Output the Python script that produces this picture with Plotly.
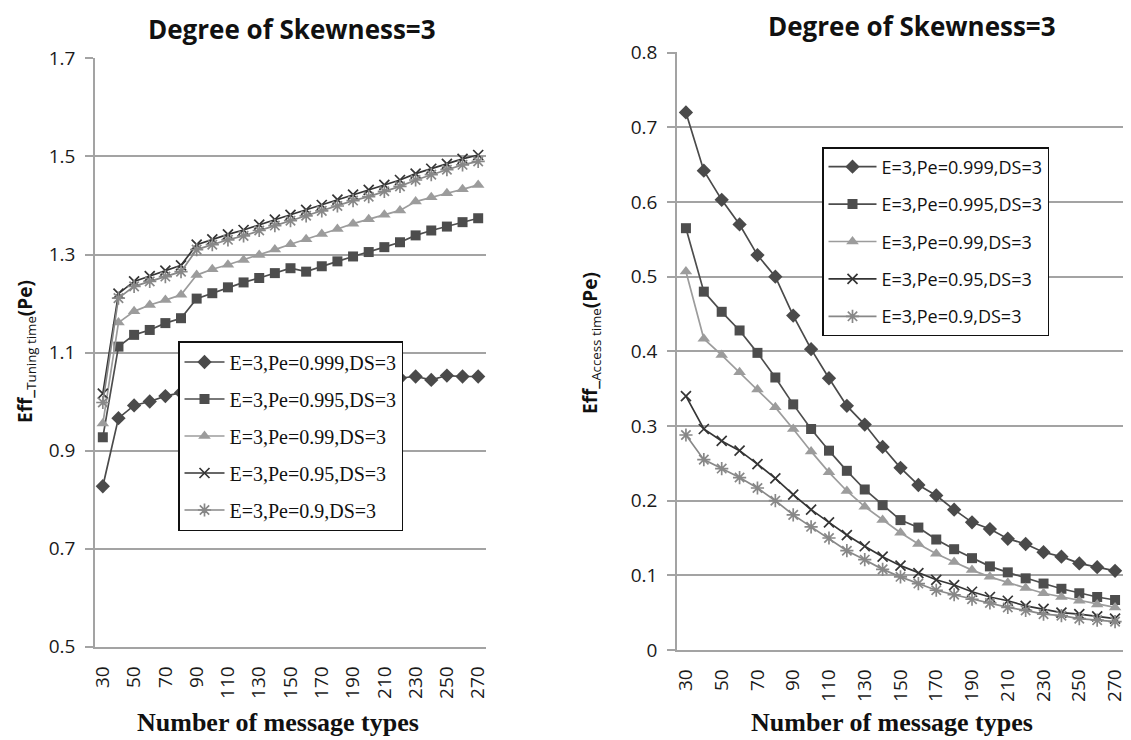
import plotly.graph_objects as go

# The page body has an 8px margin; lay the figure out in screenshot pixels
OX, OY = 8, 8
W, H = 1131 - OX, 740 - OY


def px(p):
    return (p - OX) / W


def py(p):
    return 1 - (p - OY) / H


# ---------------- data ----------------
msg_types = [30, 40, 50, 60, 70, 80, 90, 100, 110, 120, 130, 140, 150,
             160, 170, 180, 190, 200, 210, 220, 230, 240, 250, 260, 270]
x_tick_vals = [30, 50, 70, 90, 110, 130, 150, 170, 190, 210, 230, 250, 270]

series_names = ["E=3,Pe=0.999,DS=3", "E=3,Pe=0.995,DS=3", "E=3,Pe=0.99,DS=3",
                "E=3,Pe=0.95,DS=3", "E=3,Pe=0.9,DS=3"]

# Left chart: Eff_Tuning time(Pe)
tuning_999 = [0.827, 0.966, 0.992, 1.000, 1.011, 1.018, 1.028, 1.031, 1.033, 1.035,
              1.037, 1.038, 1.040, 1.039, 1.041, 1.042, 1.044, 1.045, 1.046, 1.048,
              1.051, 1.044, 1.053, 1.051, 1.051]
tuning_995 = [0.927, 1.112, 1.136, 1.146, 1.160, 1.170, 1.210, 1.221, 1.233, 1.243,
              1.252, 1.262, 1.272, 1.265, 1.276, 1.286, 1.296, 1.305, 1.315, 1.325,
              1.339, 1.349, 1.357, 1.366, 1.374]
tuning_99 = [0.955, 1.161, 1.184, 1.197, 1.207, 1.218, 1.258, 1.270, 1.279, 1.289,
             1.299, 1.310, 1.321, 1.331, 1.342, 1.352, 1.363, 1.372, 1.381, 1.390,
             1.408, 1.417, 1.425, 1.433, 1.442]
tuning_95 = [1.016, 1.220, 1.245, 1.256, 1.267, 1.278, 1.320, 1.331, 1.341, 1.350,
             1.361, 1.371, 1.381, 1.391, 1.401, 1.412, 1.422, 1.432, 1.442, 1.452,
             1.465, 1.475, 1.485, 1.495, 1.503]
tuning_9 = [0.998, 1.211, 1.235, 1.245, 1.255, 1.265, 1.310, 1.320, 1.330, 1.338,
            1.349, 1.359, 1.369, 1.379, 1.389, 1.399, 1.410, 1.418, 1.429, 1.439,
            1.452, 1.463, 1.473, 1.483, 1.490]
tuning_ticks = [0.5, 0.7, 0.9, 1.1, 1.3, 1.5, 1.7]

# Right chart: Eff_Access time(Pe)
access_999 = [0.720, 0.642, 0.603, 0.570, 0.529, 0.500, 0.448, 0.403, 0.364, 0.327,
              0.302, 0.272, 0.244, 0.221, 0.207, 0.188, 0.171, 0.162, 0.149, 0.142,
              0.131, 0.125, 0.116, 0.111, 0.106]
access_995 = [0.565, 0.480, 0.453, 0.428, 0.398, 0.365, 0.329, 0.296, 0.267, 0.240,
              0.215, 0.194, 0.174, 0.164, 0.148, 0.135, 0.123, 0.112, 0.104, 0.096,
              0.089, 0.082, 0.076, 0.071, 0.067]
access_99 = [0.507, 0.417, 0.395, 0.372, 0.349, 0.325, 0.296, 0.266, 0.238, 0.213,
             0.192, 0.174, 0.157, 0.142, 0.129, 0.118, 0.107, 0.098, 0.090, 0.083,
             0.076, 0.071, 0.066, 0.061, 0.057]
access_95 = [0.340, 0.296, 0.280, 0.267, 0.249, 0.230, 0.208, 0.188, 0.171, 0.154,
             0.139, 0.125, 0.113, 0.103, 0.094, 0.087, 0.078, 0.071, 0.066, 0.059,
             0.055, 0.050, 0.048, 0.045, 0.042]
access_9 = [0.288, 0.255, 0.243, 0.231, 0.217, 0.200, 0.181, 0.165, 0.150, 0.133,
            0.121, 0.108, 0.098, 0.089, 0.080, 0.074, 0.068, 0.063, 0.057, 0.053,
            0.048, 0.046, 0.042, 0.040, 0.038]
access_ticks = [0, 0.1, 0.2, 0.3, 0.4, 0.5, 0.6, 0.7, 0.8]

# ---------------- styles ----------------
styles = [
    dict(symbol="diamond", color="#4a4a4a", size=11),
    dict(symbol="square", color="#4d4d4d", size=10),
    dict(symbol="triangle-up", color="#9c9c9c", size=11),
    dict(symbol="x-thin-open", color="#353535", size=10),
    dict(symbol="asterisk-open", color="#888888", size=11),
]

fig = go.Figure()


def add_series(ys, idx, xa, ya, legend):
    st = styles[idx]
    open_sym = st["symbol"].endswith("open")
    fig.add_trace(go.Scatter(
        x=msg_types, y=ys, mode="lines+markers", name=series_names[idx],
        xaxis=xa, yaxis=ya, legend=legend, legendgroup=legend + str(idx),
        line=dict(color=st["color"], width=1.7),
        marker=dict(symbol=st["symbol"], size=st["size"], color=st["color"],
                    line=dict(color=st["color"], width=1.7 if open_sym else 0)),
    ))


for i, ys in enumerate([tuning_999, tuning_995, tuning_99, tuning_95, tuning_9]):
    add_series(ys, i, "x", "y", "legend")
for i, ys in enumerate([access_999, access_995, access_99, access_95, access_9]):
    add_series(ys, i, "x2", "y2", "legend2")

GRID = "#a3a3a3"
tickfont = dict(family="Open Sans", size=19, color="#1a1a1a")

common_x = dict(range=[25, 275], tickvals=x_tick_vals, tickangle=-90,
                showgrid=False, zeroline=False, showline=True, linecolor=GRID,
                linewidth=1.6, ticks="", tickfont=tickfont, ticklabelstandoff=10,
                ticklabeloverflow="allow", automargin=False)
common_y = dict(showgrid=True, gridcolor=GRID, gridwidth=1.6, zeroline=False,
                showline=True, linecolor=GRID, linewidth=1.6, ticks="outside",
                ticklen=8, tickcolor=GRID, tickwidth=1.6, tickfont=tickfont,
                ticklabelstandoff=6, automargin=False)

fig.update_layout(
    width=W, height=H, autosize=False,
    margin=dict(l=0, r=0, t=0, b=0, pad=0, autoexpand=False),
    paper_bgcolor="white", plot_bgcolor="white",
    xaxis=dict(domain=[px(95), px(486)], anchor="y", **common_x),
    yaxis=dict(domain=[py(647), py(58)], anchor="x", range=[0.499, 1.701],
               tickvals=tuning_ticks, **common_y),
    xaxis2=dict(domain=[px(677), px(1124)], anchor="y2", **common_x),
    yaxis2=dict(domain=[py(650), py(52)], anchor="x2", range=[0, 0.801],
                tickvals=access_ticks, **common_y),
    legend=dict(x=px(178), y=py(341), xanchor="left", yanchor="top",
                bgcolor="white", bordercolor="#111", borderwidth=1.5,
                font=dict(family="Liberation Serif", size=20, color="#111"),
                itemwidth=40, tracegroupgap=8, traceorder="grouped"),
    legend2=dict(x=px(822), y=py(147), xanchor="left", yanchor="top",
                 bgcolor="white", bordercolor="#111", borderwidth=1.5,
                 font=dict(family="Open Sans", size=18, color="#111"),
                 itemwidth=48, tracegroupgap=11, traceorder="grouped"),
    showlegend=True,
)

ann = []
title_font = dict(family="Open Sans", size=26, color="#111")
ann.append(dict(x=px(292), y=py(29), xref="paper", yref="paper",
                text="<b>Degree of Skewness=3</b>", showarrow=False,
                font=title_font, xanchor="center", yanchor="middle"))
ann.append(dict(x=px(912), y=py(26), xref="paper", yref="paper",
                text="<b>Degree of Skewness=3</b>", showarrow=False,
                font=title_font, xanchor="center", yanchor="middle"))
xt_font = dict(family="Liberation Serif", size=26, color="#111")
ann.append(dict(x=px(278), y=py(722), xref="paper", yref="paper",
                text="<b>Number of message types</b>", showarrow=False,
                font=xt_font, xanchor="center", yanchor="middle"))
ann.append(dict(x=px(892), y=py(722), xref="paper", yref="paper",
                text="<b>Number of message types</b>", showarrow=False,
                font=xt_font, xanchor="center", yanchor="middle"))
yt_font = dict(family="Open Sans", size=19, color="#111")
ann.append(dict(x=px(26), y=py(352), xref="paper", yref="paper",
                text="<b>Eff_</b><sub>Tuning time</sub><b>(Pe)</b>", showarrow=False,
                font=yt_font, textangle=-90, xanchor="center", yanchor="middle"))
ann.append(dict(x=px(591), y=py(343), xref="paper", yref="paper",
                text="<b>Eff_</b><sub>Access time</sub><b>(Pe)</b>", showarrow=False,
                font=yt_font, textangle=-90, xanchor="center", yanchor="middle"))
fig.update_layout(annotations=ann)

fig.write_html("out.html")
